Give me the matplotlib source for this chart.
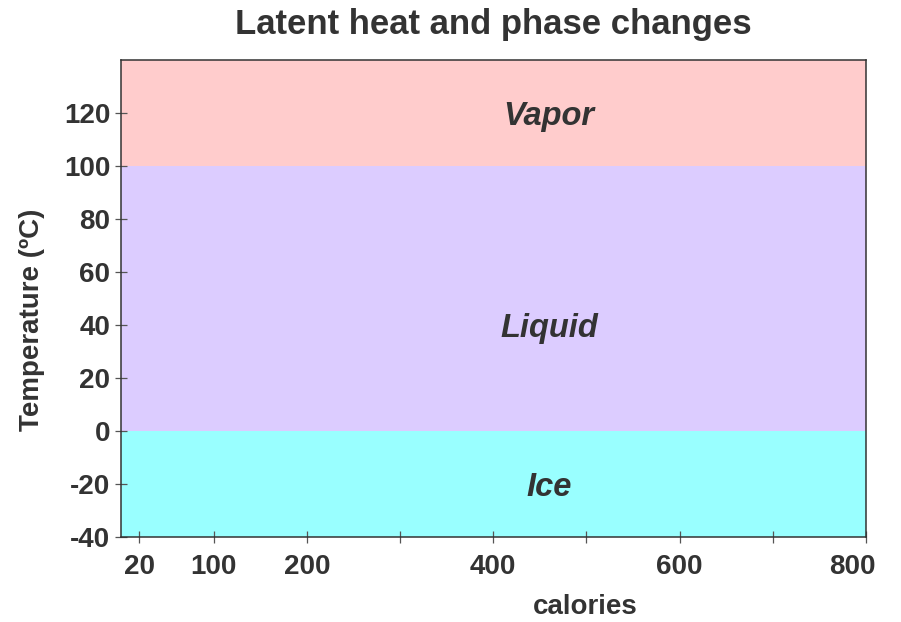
import matplotlib
matplotlib.use("Agg")
import matplotlib.pyplot as plt
from matplotlib.ticker import FixedLocator, NullFormatter
from matplotlib.transforms import ScaledTranslation

# phase bands (temperature ranges in degC)
phases = ["Ice", "Liquid", "Vapor"]
phase_low = [-40, 0, 100]
phase_high = [0, 100, 140]
phase_colors = ["#99ffff", "#dcccff", "#ffcccc"]
label_x = [460, 460, 460]
label_y = [-20, 40, 120]

x_major = [20, 100, 200, 400, 600, 800]
x_minor = [300, 500, 700]
y_ticks = [-40, -20, 0, 20, 40, 60, 80, 100, 120]

txt = "#333333"
plt.rcParams["font.family"] = ["Liberation Sans", "DejaVu Sans"]
plt.rcParams["font.weight"] = "bold"
plt.rcParams["axes.unicode_minus"] = False

fig = plt.figure(figsize=(9.01, 6.22), dpi=100)
ax = fig.add_axes([0.134, 0.1367, 0.827, 0.7668])

for lo, hi, c in zip(phase_low, phase_high, phase_colors):
    ax.axhspan(lo, hi, color=c, lw=0)

for name, x, y in zip(phases, label_x, label_y):
    ax.text(x, y, name, ha="center", va="center_baseline", fontsize=23.5,
            fontweight="bold", fontstyle="italic", color=txt)

ax.set_xlim(0, 800)
ax.set_ylim(-40, 140)
ax.xaxis.set_major_locator(FixedLocator(x_major))
ax.xaxis.set_minor_locator(FixedLocator(x_minor))
ax.xaxis.set_minor_formatter(NullFormatter())
ax.set_yticks(y_ticks)

ax.tick_params(axis="both", which="both", direction="inout", length=8,
               width=0.9, color="#555555", labelsize=20, labelcolor=txt,
               pad=3.5)
ax.tick_params(axis="x", pad=8)
for lab in ax.get_xticklabels() + ax.get_yticklabels():
    lab.set_fontweight("bold")
last = ax.get_xticklabels()[-1]
last.set_transform(last.get_transform()
                   + ScaledTranslation(-0.135, 0, fig.dpi_scale_trans))

for s in ax.spines.values():
    s.set_color("#333333")
    s.set_linewidth(1.1)

ax.set_xlabel("calories", fontsize=20, fontweight="bold", color=txt)
ax.xaxis.set_label_coords(0.623, -0.12)
ax.set_ylabel("Temperature (ºC)", fontsize=20, fontweight="bold", color=txt)
ax.yaxis.set_label_coords(-0.102, 0.455)
ax.set_title("Latent heat and phase changes", fontsize=25, fontweight="bold",
             color=txt, pad=19)

fig.savefig("out.png", dpi=100)
